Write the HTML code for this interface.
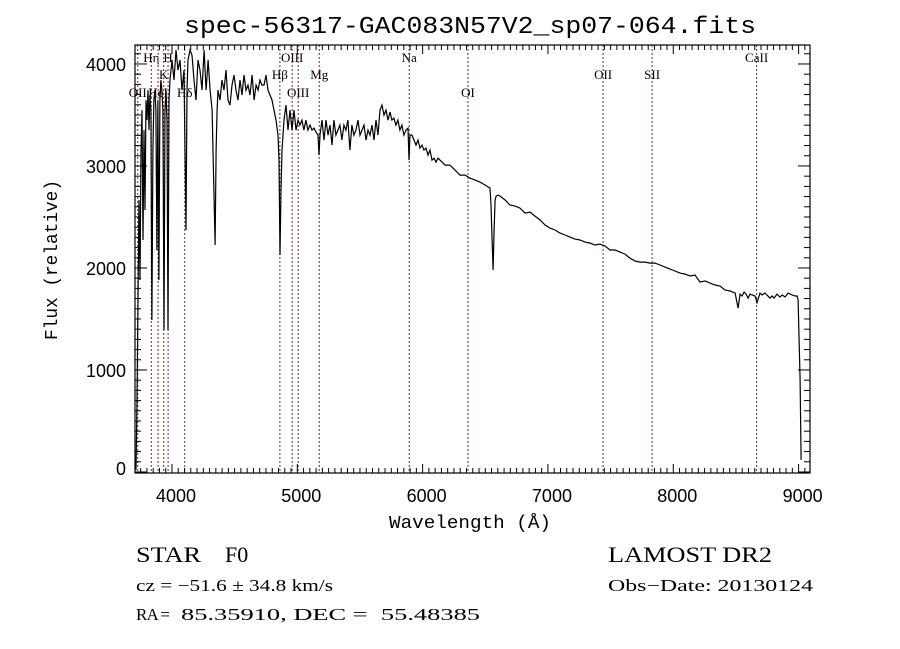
<!DOCTYPE html>
<html><head><meta charset="utf-8">
<style>
html,body{margin:0;padding:0;background:#fff;}
svg{display:block;}
svg text{white-space:pre;}
</style></head>
<body>
<svg id="chart" width="900" height="649" viewBox="0 0 900 649" xmlns="http://www.w3.org/2000/svg" xml:space="preserve">
<rect x="0" y="0" width="900" height="649" fill="#fff"/>
<text x="470" y="33" font-family="Liberation Mono, monospace" font-size="24" text-anchor="middle" textLength="572" lengthAdjust="spacingAndGlyphs">spec-56317-GAC083N57V2_sp07-064.fits</text>
<g id="lines"></g>
<g id="spec"></g>
<g id="axes"></g>
<text x="470" y="528" font-family="Liberation Mono, monospace" font-size="18" text-anchor="middle" textLength="162" lengthAdjust="spacingAndGlyphs">Wavelength (Å)</text>
<text transform="translate(57,260) rotate(-90)" font-family="Liberation Mono, monospace" font-size="18" text-anchor="middle" textLength="160" lengthAdjust="spacingAndGlyphs">Flux (relative)</text>
<text x="136" y="562" font-family="Liberation Serif, serif" font-size="22" textLength="65" lengthAdjust="spacingAndGlyphs">STAR</text>
<text x="225" y="562" font-family="Liberation Serif, serif" font-size="22">F0</text>
<text x="608" y="562" font-family="Liberation Serif, serif" font-size="22" textLength="164" lengthAdjust="spacingAndGlyphs">LAMOST DR2</text>
<text x="136" y="591" font-family="Liberation Serif, serif" font-size="17" textLength="197" lengthAdjust="spacingAndGlyphs">cz = −51.6 ± 34.8 km/s</text>
<text x="608" y="591" font-family="Liberation Serif, serif" font-size="17" textLength="205" lengthAdjust="spacingAndGlyphs">Obs−Date: 20130124</text>
<text x="136" y="620" font-family="Liberation Serif, serif" font-size="17" textLength="34" lengthAdjust="spacing">RA =</text>
<text x="181" y="620" font-family="Liberation Serif, serif" font-size="17" textLength="299" lengthAdjust="spacingAndGlyphs">85.35910, DEC =  55.48385</text>
</svg>
<script>
const wavelengths = [3713,3721,3729,3737,3745,3753,3761,3769,3777,3785,3793,3801,3809,3817,3824,3832,3840,3848,3856,3864,3872,3880,3888,3896,3904,3912,3920,3928,3936,3944,3952,3960,3968,3976,3984,4000,4016,4032,4048,4064,4080,4096,4112,4120,4128,4144,4160,4176,4192,4208,4224,4240,4256,4272,4288,4304,4320,4336,4344,4352,4360,4367,4383,4399,4415,4431,4447,4463,4479,4495,4511,4527,4543,4559,4575,4591,4607,4623,4639,4655,4671,4687,4702,4718,4734,4750,4766,4782,4798,4814,4830,4846,4854,4862,4870,4878,4894,4910,4926,4942,4958,4974,4990,5006,5021,5037,5053,5069,5085,5101,5117,5133,5149,5165,5173,5181,5197,5213,5229,5245,5261,5277,5292,5308,5324,5340,5356,5372,5388,5404,5420,5436,5452,5468,5484,5500,5516,5532,5548,5564,5580,5596,5612,5628,5644,5660,5676,5692,5708,5724,5740,5755,5771,5787,5803,5819,5835,5851,5867,5883,5891,5899,5915,5931,5947,5963,5979,5995,6011,6027,6043,6059,6075,6091,6107,6123,6139,6179,6218,6258,6298,6338,6378,6418,6458,6498,6538,6546,6554,6562,6570,6578,6586,6602,6618,6658,6697,6737,6777,6817,6857,6897,6937,6977,7016,7056,7096,7136,7176,7216,7256,7296,7336,7375,7415,7455,7495,7535,7575,7615,7655,7695,7735,7774,7814,7854,7894,7934,7974,8014,8054,8094,8134,8173,8213,8253,8293,8333,8373,8413,8453,8493,8517,8533,8549,8565,8581,8597,8612,8628,8652,8668,8692,8708,8732,8772,8788,8804,8828,8852,8868,8892,8916,8948,8972,8988,8996,9004,9012,9020];
const fluxValues = [20,706,1686,2666,1882,3156,3548,2274,3352,2568,3646,3450,3744,3352,3695,3548,1490,3156,3646,3744,3548,2176,3646,1882,3646,3842,3744,3548,1392,3548,3744,3450,1392,3646,3842,4038,3842,4136,3940,4038,3744,3940,2372,3744,4038,4136,4087,3842,3646,4038,3940,3744,4136,3744,4038,3744,3548,2666,2225,3156,3548,3744,3646,3842,3744,3940,3646,3597,3793,3891,3744,3646,3842,3695,3891,3744,3793,3695,3891,3646,3793,3744,3842,3793,3793,3891,3744,3695,3646,3548,3450,3303,3058,2127,2764,3156,3450,3597,3352,3548,3352,3548,3352,3450,3401,3450,3352,3450,3352,3401,3352,3371,3332,3303,3107,3303,3450,3254,3450,3303,3401,3205,3450,3303,3352,3401,3254,3401,3352,3450,3156,3401,3303,3352,3450,3303,3352,3401,3254,3352,3303,3401,3254,3450,3303,3548,3597,3499,3548,3450,3528,3450,3469,3401,3450,3352,3401,3303,3352,3371,3058,3303,3303,3254,3205,3254,3175,3205,3156,3175,3107,3156,3058,3077,3038,3077,3058,3009,3009,2960,2911,2911,2881,2862,2842,2813,2783,2617,2274,1980,2372,2666,2705,2715,2705,2666,2617,2607,2587,2538,2548,2509,2470,2421,2391,2372,2342,2323,2303,2283,2274,2254,2244,2225,2234,2215,2176,2176,2156,2136,2097,2068,2058,2058,2048,2048,2029,2009,1989,1970,1950,1940,1921,1931,1862,1872,1852,1833,1823,1784,1774,1754,1607,1744,1725,1764,1744,1705,1744,1735,1725,1660,1754,1735,1754,1705,1725,1705,1744,1715,1735,1715,1754,1735,1725,1725,1686,1294,902,118];
const lineNames = ["OII","Hη","HeI","K","H","Hδ","Hβ","OIII","OIII","Mg","Na","OI","OII","SII","CaII"];
const lineWaves = [3727,3835,3889,3934,3969,4102,4861,4959,5007,5175,5893,6362,7440,7831,8665];
const lineRows = [2,0,2,1,0,2,1,0,2,1,0,2,1,1,0];
const xTicks = [4000,5000,6000,7000,8000,9000];
const yTicks = [0,1000,2000,3000,4000];

const NS = "http://www.w3.org/2000/svg";
const L = 135, R = 810, T = 45, B = 473;
const xMin = 3705, xMax = 9091, yMin = -10, yMax = 4186;
function xs(w){ return L + (w - xMin) / (xMax - xMin) * (R - L); }
function ys(f){ return B - (f - yMin) / (yMax - yMin) * (B - T); }
function mk(tag, attrs, parent){ const e = document.createElementNS(NS, tag); for (const k in attrs) e.setAttribute(k, attrs[k]); parent.appendChild(e); return e; }

const lg = document.getElementById('lines');
const rowY = [62, 79, 97];
lineWaves.forEach((w, i) => {
  const x = xs(w);
  const ln = mk('line', {x1:x, x2:x, y1:T, y2:B, stroke:'#8b2020', 'stroke-width':1, 'stroke-dasharray':'2,2'}, lg);
  
  
  const t = mk('text', {x:x, y:rowY[lineRows[i]], 'font-family':'Liberation Serif, serif', 'font-size':13, 'text-anchor':'middle'}, lg);
  t.textContent = lineNames[i];
  
  
});

const sg = document.getElementById('spec');
let d = '';
wavelengths.forEach((w, i) => { d += (i ? 'L' : 'M') + xs(w).toFixed(1) + ',' + ys(fluxValues[i]).toFixed(1); });
const p = mk('path', {d:d, fill:'none', stroke:'#000', 'stroke-width':1.2}, sg);



const ag = document.getElementById('axes');
const box = mk('rect', {x:L, y:T, width:R-L, height:B-T, fill:'none', stroke:'#000', 'stroke-width':1.2}, ag);


for (let w = 3750; w <= xMax; w += 50) {
  const x = xs(w); const major = (w % 1000 === 0); const len = major ? 9 : 5;
  mk('line', {x1:x, x2:x, y1:B, y2:B-len, stroke:'#000', 'stroke-width':1}, ag);
  mk('line', {x1:x, x2:x, y1:T, y2:T+len, stroke:'#000', 'stroke-width':1}, ag);
}
for (let f = 0; f <= yMax; f += 100) {
  const y = ys(f); const major = (f % 1000 === 0); const len = major ? 12 : 6;
  mk('line', {x1:L, x2:L+len, y1:y, y2:y, stroke:'#000', 'stroke-width':1}, ag);
  mk('line', {x1:R, x2:R-len, y1:y, y2:y, stroke:'#000', 'stroke-width':1}, ag);
}
xTicks.forEach(w => {
  const t = mk('text', {x:xs(w)+4, y:502, 'font-family':'Liberation Sans, sans-serif', 'font-size':18, 'text-anchor':'middle'}, ag);
  t.textContent = w;
  
  
});
yTicks.forEach(f => {
  const t = mk('text', {x:126, y:ys(f)+7 - (f===0?4:0), 'font-family':'Liberation Sans, sans-serif', 'font-size':18, 'text-anchor':'end'}, ag);
  t.textContent = f;
  
  
});
</script>
</body></html>
